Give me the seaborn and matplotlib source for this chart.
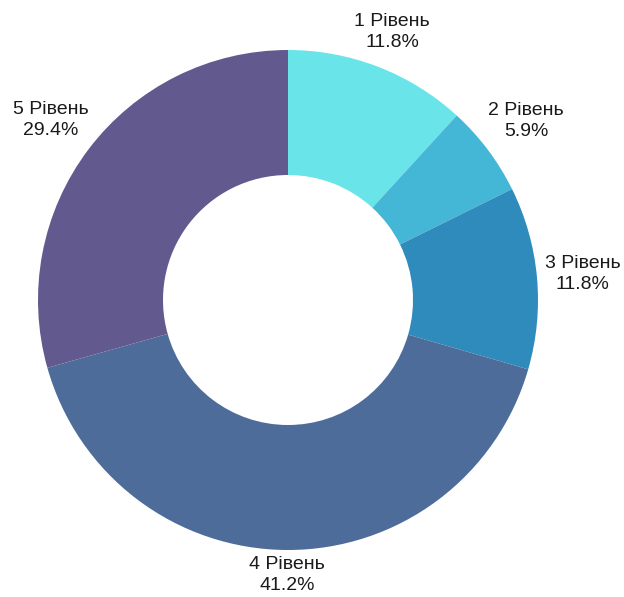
import numpy as np
import matplotlib
matplotlib.use("Agg")
import matplotlib.pyplot as plt
import seaborn as sns

# Share of respondents per level
levels = ["1 Рівень", "2 Рівень", "3 Рівень", "4 Рівень", "5 Рівень"]
shares = [11.8, 5.9, 11.8, 41.2, 29.4]
colors = ["#69E4E8", "#44B6D6", "#2E8BBC", "#4E6C9A", "#625A8F"]

sns.set_theme(style="white")
plt.rcParams["font.family"] = ["Liberation Sans", "DejaVu Sans"]

fig = plt.figure(figsize=(6.24, 5.97), dpi=100)
ax = fig.add_axes([38 / 624, 47 / 597, 500 / 624, 500 / 597])

labels = [f"{lvl}\n{v:.1f}%" for lvl, v in zip(levels, shares)]
wedges, texts = ax.pie(
    shares,
    labels=labels,
    colors=colors,
    startangle=90,
    counterclock=False,
    radius=1.0,
    labeldistance=1.02,
    wedgeprops=dict(width=0.5, edgecolor="none"),
    textprops=dict(fontsize=14, color="#1a1a1a", linespacing=1.3),
)
ax.set_xlim(-1, 1)
ax.set_ylim(-1, 1)
ax.set_aspect("equal")
ax.axis("off")

# Push each label outward so its box clears the ring
fig.canvas.draw()
renderer = fig.canvas.get_renderer()
px_per_unit = ax.transData.transform((1, 0))[0] - ax.transData.transform((0, 0))[0]
for w, t in zip(wedges, texts):
    ang = np.deg2rad(0.5 * (w.theta1 + w.theta2))
    bb = t.get_window_extent(renderer)
    bw, bh = bb.width / px_per_unit, bb.height / px_per_unit
    extra = 0.5 * (bw * abs(np.cos(ang)) + bh * abs(np.sin(ang)))
    r = 1.025 + extra
    t.set_position((r * np.cos(ang), r * np.sin(ang)))
    t.set_ha("center")
    t.set_va("center")
    t.set_multialignment("center")
    t.set_clip_on(False)

fig.savefig("out.png", dpi=100)
